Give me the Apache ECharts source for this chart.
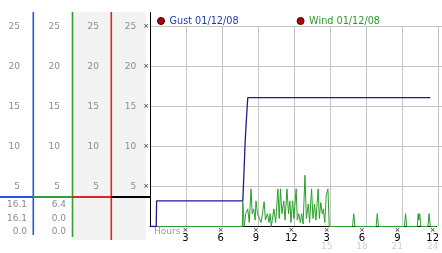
<!DOCTYPE html>
<html><head><meta charset="utf-8">
<script src="https://cdn.jsdelivr.net/npm/echarts@6/dist/echarts.min.js"></script>
<style>html,body{margin:0;padding:0;background:#fff}#c{width:442px;height:253px}</style>
</head><body><div id="c"></div>
<script>
// ---- data ----
const legendNames = ['Gust 01/12/08', 'Wind 01/12/08'];
const gustHours = [0, 0.53, 0.56, 7.88, 7.97, 8.08, 8.19, 8.3, 23.8];
const gustMph   = [0, 0, 3.2, 3.2, 6.4, 10.6, 13.5, 16.1, 16.1];
const windHours = [0, 7.85, 7.88, 8.0, 8.13, 8.3, 8.43, 8.58, 8.68, 8.8, 8.93, 9.0, 9.13, 9.27, 9.43, 9.55, 9.69, 9.8, 9.97, 10.1, 10.2, 10.3,
  10.52, 10.67, 10.86, 10.97, 11.08, 11.2, 11.36, 11.47, 11.63, 11.76, 11.88, 11.97, 12.11, 12.22, 12.41, 12.51, 12.63, 12.76, 12.88, 13.0,
  13.16, 13.28, 13.44, 13.55, 13.72, 13.84, 13.97, 14.09, 14.28, 14.38, 14.5, 14.63, 14.72, 14.84, 14.97, 15.11, 15.22,
  17.2, 17.3, 17.4, 19.2, 19.3, 19.4, 21.6, 21.7, 21.8, 22.7, 22.77, 22.83, 22.9, 23.0, 23.6, 23.7, 23.8, 24.3];
const windMph = [0, 0, 3.1, 0, 1.6, 2.2, 0.5, 4.7, 1.6, 2.2, 0.8, 3.2, 1.6, 1.6, 0.5, 1.6, 3.1, 0.8, 1.6, 0.5, 1.6, 0,
  2.2, 0.5, 4.7, 1.0, 4.7, 1.6, 3.2, 0.8, 4.7, 1.6, 3.2, 0.5, 3.2, 1.0, 4.7, 0.8, 1.6, 0.5, 1.6, 0.3,
  6.4, 1.0, 2.8, 0.5, 4.7, 1.0, 2.8, 0.8, 4.7, 1.0, 3.0, 1.6, 2.2, 0.5, 3.9, 4.7, 0,
  0, 1.6, 0, 0, 1.6, 0, 0, 1.6, 0, 0, 1.6, 0.8, 1.6, 0, 0, 1.6, 0, 0];
const yTickValues = [5, 10, 15, 20, 25];
const xTickValues = [3, 6, 9, 12, 15, 18, 21, 24];
const tableCol1 = ['16.1', '16.1', '0.0'];
const tableCol2 = ['6.4', '0.0', '0.0'];

// ---- layout ----
const FONT = 'DejaVu Sans';
const ZERO_Y = 226.5, PX_PER_UNIT = 8;
const BLUE = '#2456e0', GREEN = '#2fa02f', RED = '#dc2424', GRAY_BG = '#f3f3f3', LBL = '#8c8c8c';
const GUST_C = '#1c1c8e', WIND_C = '#2a9e2a';

function colGrid(left, width, top, bottom, bg) {
  return { left, width, top, height: bottom - top, show: !!bg, backgroundColor: bg || 'transparent', borderWidth: 0, borderColor: 'transparent' };
}
function colY(gi, top, bottom, margin) {
  return {
    type: 'value', gridIndex: gi, position: 'left',
    min: -(bottom - ZERO_Y) / PX_PER_UNIT, max: (ZERO_Y - top) / PX_PER_UNIT,
    axisLine: { show: false }, axisTick: { show: false }, splitLine: { show: false },
    axisLabel: { customValues: yTickValues, margin, color: LBL, fontSize: 9, fontFamily: FONT }
  };
}
const hiddenX = gi => ({ type: 'value', gridIndex: gi, show: false, min: 0, max: 1 });

const grids = [
  colGrid(33, 39, 12, 235, null),
  colGrid(72, 39, 12, 240, GRAY_BG),
  colGrid(111, 35, 12, 240, GRAY_BG),
  { left: 150, right: 0, top: 12.5, bottom: 253 - ZERO_Y },   // main
  { left: 150, right: 0, top: ZERO_Y - 25 * PX_PER_UNIT, bottom: 253 - ZERO_Y } // gridlines
];
const xMax = (442 - 150) / 12;
const vline = (x, y2, color) => ({ type: 'line', z: 10, shape: { x1: x, y1: 12, x2: x, y2 }, style: { stroke: color, lineWidth: 1.6 } });
const hline = (x1, x2, color) => ({ type: 'line', z: 10, shape: { x1, y1: 197, x2, y2: 197 }, style: { stroke: color, lineWidth: 2 } });

const option = {
  animation: false,
  textStyle: { fontFamily: FONT },
  title: { text: 'Hours', left: 154, top: 227, padding: 0, textStyle: { fontSize: 9, color: '#999', fontWeight: 'normal', fontFamily: FONT } },
  legend: {
    left: 152, top: 11, itemGap: 58, itemWidth: 7, itemHeight: 7, icon: 'circle',
    data: [
      { name: legendNames[0], itemStyle: { color: '#b00000', borderColor: '#3a0000', borderWidth: 1 }, textStyle: { color: '#1e3ca8' } },
      { name: legendNames[1], itemStyle: { color: '#b00000', borderColor: '#3a0000', borderWidth: 1 }, textStyle: { color: '#2a9a2a' } }
    ],
    textStyle: { fontSize: 9.7, fontFamily: FONT }
  },
  grid: grids,
  xAxis: [
    hiddenX(0), hiddenX(1), hiddenX(2),
    {
      type: 'value', gridIndex: 3, min: 0, max: xMax, interval: 3,
      axisLine: { show: true, lineStyle: { color: '#000', width: 1 } },
      axisTick: { show: false }, splitLine: { show: false },
      axisLabel: {
        customValues: xTickValues, margin: 1,
        formatter: v => v <= 12 ? `{m|×}\n{h|${v}}` : `{m|×}\n{h|${v - 12}}\n{g|${v}}`,
        rich: {
          m: { fontSize: 7, lineHeight: 6, color: '#222', fontFamily: FONT },
          h: { fontSize: 10, lineHeight: 9, color: '#000', fontFamily: FONT },
          g: { fontSize: 9, lineHeight: 9, color: '#cfcfcf', fontFamily: FONT }
        }
      }
    },
    {
      type: 'value', gridIndex: 4, min: 0, max: xMax, interval: 3,
      axisLine: { show: false }, axisTick: { show: false }, axisLabel: { show: false },
      splitLine: { show: true, showMinLine: false, showMaxLine: false, lineStyle: { color: '#c4c4c4', width: 1 } }
    }
  ],
  yAxis: [
    colY(0, 12, 235, 13),
    colY(1, 12, 240, 12),
    colY(2, 12, 240, 12),
    {
      type: 'value', gridIndex: 3, min: 0, max: (ZERO_Y - 12.5) / PX_PER_UNIT,
      axisLine: { show: true, lineStyle: { color: '#000', width: 1 } },
      axisTick: { show: false }, splitLine: { show: false },
      axisLabel: {
        customValues: yTickValues, margin: 1,
        formatter: v => `{v|${v}}{m|×}`,
        rich: {
          v: { fontSize: 9, color: LBL, fontFamily: FONT, padding: [0, 7, 0, 0] },
          m: { fontSize: 7, color: '#222', fontFamily: FONT }
        }
      }
    },
    {
      type: 'value', gridIndex: 4, min: 0, max: 25, interval: 5,
      axisLine: { show: false }, axisTick: { show: false }, axisLabel: { show: false },
      splitLine: { show: true, showMinLine: false, lineStyle: { color: '#c4c4c4', width: 1 } }
    }
  ],
  series: [
    {
      name: legendNames[1], type: 'line', xAxisIndex: 3, yAxisIndex: 3, symbol: 'none',
      lineStyle: { color: WIND_C, width: 1 }, itemStyle: { color: WIND_C },
      data: windHours.map((h, i) => [h, windMph[i]])
    },
    {
      name: legendNames[0], type: 'line', xAxisIndex: 3, yAxisIndex: 3, symbol: 'none',
      lineStyle: { color: GUST_C, width: 1.3 }, itemStyle: { color: GUST_C },
      data: gustHours.map((h, i) => [h, gustMph[i]])
    }
  ],
  graphic: [
    vline(33.3, 235, BLUE), vline(72.5, 237, GREEN), vline(111.3, 240, RED),
    hline(0, 33, BLUE), hline(33, 72, GREEN), hline(72, 111, RED), hline(111, 150, '#000'),
    ...tableCol1.map((t, i) => ({ type: 'text', x: 27, y: 205 + i * 13.3, style: { text: t, align: 'right', verticalAlign: 'middle', fill: LBL, font: '9px "DejaVu Sans"' } })),
    ...tableCol2.map((t, i) => ({ type: 'text', x: 66, y: 205 + i * 13.3, style: { text: t, align: 'right', verticalAlign: 'middle', fill: LBL, font: '9px "DejaVu Sans"' } }))
  ]
};
echarts.init(document.getElementById('c'), null, { renderer: 'canvas' }).setOption(option);
</script></body></html>
